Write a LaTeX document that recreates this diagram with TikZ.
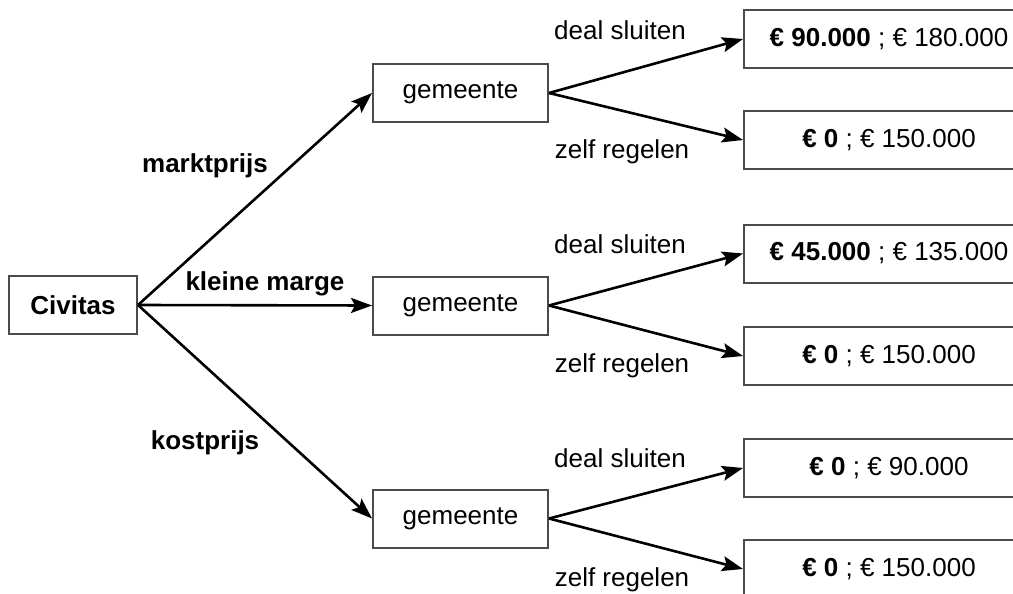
\documentclass[tikz,border=0pt]{standalone}
\usepackage{fontspec}
\setmainfont{Liberation Sans}
\usetikzlibrary{arrows.meta}
\definecolor{boxgray}{RGB}{75,75,75}

\begin{document}
\begin{tikzpicture}[x=1pt, y=-1pt, font=\fontsize{26}{31}\selectfont,
    choice/.style={rectangle, draw=boxgray, line width=2pt, minimum height=58pt, inner sep=0pt},
    player/.style={choice, minimum width=175pt},
    payoff/.style={choice, minimum width=290pt},
    move/.style={-{Stealth[length=21pt,width=15pt,inset=4pt]}, line width=2.6pt},
    lbl/.style={inner sep=0pt}]

    \clip (0,0) rectangle (1013,594);

    % players
    \node[choice, minimum width=128pt, font=\fontsize{26}{31}\selectfont\bfseries] (civitas) at (73,305) {Civitas};
    \node[player] (gemA) at (460.5,93) {gemeente};
    \node[player] (gemB) at (460.5,305.5) {gemeente};
    \node[player] (gemC) at (460.5,518.5) {gemeente};

    % outcomes
    \node[payoff] (outA1) at (889,39) {{\bfseries € 90.000} ; € 180.000};
    \node[payoff] (outA2) at (889,140) {{\bfseries € 0} ; € 150.000};
    \node[payoff] (outB1) at (889,253.5) {{\bfseries € 45.000} ; € 135.000};
    \node[payoff] (outB2) at (889,356) {{\bfseries € 0} ; € 150.000};
    \node[payoff] (outC1) at (889,468) {{\bfseries € 0} ; € 90.000};
    \node[payoff] (outC2) at (889,569) {{\bfseries € 0} ; € 150.000};

    % first move
    \draw[move] (civitas.east) -- (gemA.west);
    \draw[move] (civitas.east) -- (gemB.west);
    \draw[move] (civitas.east) -- (gemC.west);
    \node[lbl, font=\fontsize{26}{31}\selectfont\bfseries] (mp) at (205,166) {marktprijs};
    \node[lbl, font=\fontsize{26}{31}\selectfont\bfseries] (km) at (265,284) {kleine marge};
    \node[lbl, font=\fontsize{26}{31}\selectfont\bfseries] (kp) at (205,443) {kostprijs};

    % second move
    \foreach \g/\o in {A/0,B/214,C/428}{
        \draw[move] (gem\g.east) -- (out\g1.west);
        \draw[move] (gem\g.east) -- (out\g2.west);
        \node[lbl] (deal\g) at (620,30+\o) {deal sluiten};
        \node[lbl] (zelf\g) at (622,152+\o) {zelf regelen};
    }
\end{tikzpicture}
\end{document}
